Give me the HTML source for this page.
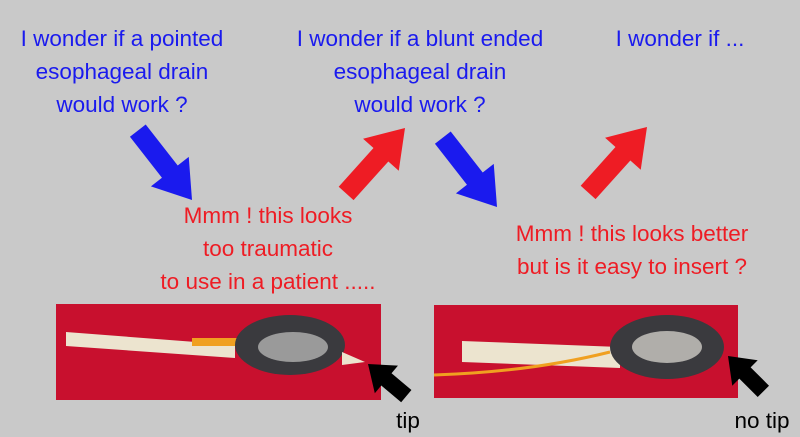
<!DOCTYPE html>
<html><head><meta charset="utf-8"><style>
html,body{margin:0;padding:0;background:#c9c9c9;}
svg{display:block}
text{font-family:"Liberation Sans",sans-serif;font-size:22.5px;text-anchor:middle}
.b{fill:#1a1aee}.r{fill:#ee1c24}.k{fill:#000}
</style></head><body>
<svg width="800" height="437" viewBox="0 0 800 437">
<rect width="800" height="437" fill="#c9c9c9"/>
<text class="b" x="122" y="46">I wonder if a pointed</text>
<text class="b" x="122" y="79">esophageal drain</text>
<text class="b" x="122" y="112">would work ?</text>
<text class="b" x="420" y="46">I wonder if a blunt ended</text>
<text class="b" x="420" y="79">esophageal drain</text>
<text class="b" x="420" y="112">would work ?</text>
<text class="b" x="680" y="46">I wonder if ...</text>
<text class="r" x="268" y="223">Mmm ! this looks</text>
<text class="r" x="268" y="256">too traumatic</text>
<text class="r" x="268" y="289">to use in a patient .....</text>
<text class="r" x="632" y="241">Mmm ! this looks better</text>
<text class="r" x="632" y="274">but is it easy to insert ?</text>
<defs>
<polygon id="ar" points="0,0 -36,-24 -36,-10 -88,-10 -88,10 -36,10 -36,24"/>
<polygon id="ak" points="0,0 -24,-18 -24,-8 -50,-8 -50,8 -24,8 -24,18"/>
</defs>
<use href="#ar" fill="#1a1aee" transform="translate(192,200) rotate(52)"/>
<use href="#ar" fill="#ee1c24" transform="translate(405,128) rotate(-48)"/>
<use href="#ar" fill="#1a1aee" transform="translate(497,207) rotate(52)"/>
<use href="#ar" fill="#ee1c24" transform="translate(647,127) rotate(-48)"/>
<rect x="56" y="304" width="325" height="96" fill="#c8102e"/>
<rect x="434" y="305" width="304" height="93" fill="#c8102e"/>
<path d="M66,332 L235,345 L235,358 L66,346 Z" fill="#ece4cf"/>
<rect x="192" y="338" width="45" height="8" fill="#f0a020"/>
<ellipse cx="290" cy="345" rx="55" ry="30" fill="#3a3a3e"/>
<ellipse cx="293" cy="347" rx="35" ry="15" fill="#9a9a9a"/>
<path d="M342,352 L365,362 L342,365 Z" fill="#ece4cf"/>
<path d="M462,341 L620,347 L620,368 L462,362 Z" fill="#ece4cf"/>
<path d="M434,375 Q530,372 610,352" stroke="#f0a020" stroke-width="3" fill="none"/>
<ellipse cx="667" cy="347" rx="57" ry="32" fill="#3a3a3e"/>
<ellipse cx="667" cy="347" rx="35" ry="16" fill="#b0aeaa"/>
<use href="#ak" fill="#000" transform="translate(368,364) rotate(-140)"/>
<use href="#ak" fill="#000" transform="translate(728,356) rotate(-135)"/>
<text class="k" x="408" y="428">tip</text>
<text class="k" x="762" y="428">no tip</text>
</svg>
</body></html>
